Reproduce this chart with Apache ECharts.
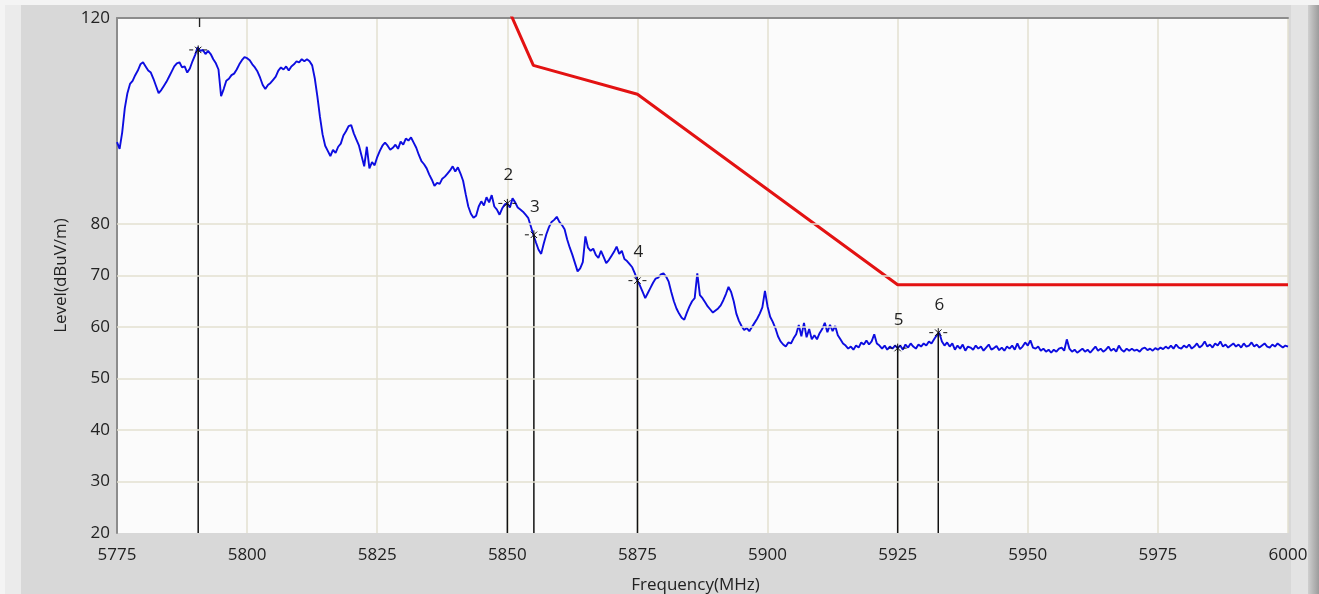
<!DOCTYPE html>
<html>
<head>
<meta charset="utf-8">
<script src="https://cdn.jsdelivr.net/npm/echarts@6/dist/echarts.min.js"></script>
<style>
html,body{margin:0;padding:0;background:#d8d8d8;}
#chart{width:1319px;height:594px;}
</style>
</head>
<body>
<div id="chart"></div>
<script>
// ---- data ----
const freqStart = 5775;   // MHz, first trace sample
const freqStep = 0.5;     // MHz between trace samples
const traceLevel = [
 95.9, 94.6, 97.8, 102.5, 105.4, 107.2, 107.8, 108.9, 109.8, 111.0,
 111.4, 110.6, 109.8, 109.4, 108.2, 106.8, 105.4, 106.0, 106.8, 107.6,
 108.6, 109.6, 110.6, 111.2, 111.4, 110.4, 110.6, 109.4, 110.2, 111.6,
 112.8, 114.3, 113.6, 113.8, 113.0, 113.6, 113.0, 112.0, 111.2, 110.0,
 104.8, 106.2, 107.8, 108.2, 108.9, 109.2, 110.0, 111.0, 111.8, 112.4,
 112.2, 111.8, 111.0, 110.4, 109.6, 108.4, 107.0, 106.2, 107.0, 107.4,
 108.0, 108.6, 109.8, 110.4, 110.0, 110.6, 109.8, 110.6, 111.0, 111.6,
 111.4, 112.0, 111.6, 112.0, 111.6, 110.8, 108.3, 104.8, 100.8, 97.4,
 95.2, 94.2, 93.2, 94.4, 93.8, 95.0, 95.6, 97.2, 98.0, 99.0,
 99.2, 97.6, 96.4, 95.2, 93.2, 91.2, 95.0, 90.8, 92.0, 91.4,
 93.0, 94.2, 95.2, 95.8, 95.2, 94.4, 94.8, 95.4, 94.6, 96.0,
 95.4, 96.6, 96.2, 96.8, 95.8, 94.8, 93.4, 92.2, 91.6, 90.8,
 89.6, 88.6, 87.4, 88.0, 87.8, 88.8, 89.2, 89.8, 90.4, 91.2,
 90.2, 91.0, 89.8, 88.4, 85.8, 83.4, 82.0, 81.2, 81.6, 83.4,
 84.4, 83.6, 85.2, 84.2, 85.6, 83.4, 82.8, 81.8, 83.0, 83.8,
 84.0, 83.2, 85.0, 84.2, 83.2, 82.8, 82.4, 81.8, 81.2, 79.6,
 77.9, 76.4, 75.0, 74.2, 76.2, 78.0, 79.4, 80.4, 80.8, 81.4,
 80.4, 79.8, 79.0, 77.0, 75.4, 74.0, 72.4, 70.8, 71.4, 72.6,
 77.6, 75.4, 74.8, 75.2, 74.0, 73.4, 74.8, 73.6, 72.4, 73.0,
 73.8, 74.6, 75.6, 74.2, 74.8, 73.2, 72.8, 72.2, 71.6, 70.4,
 69.0, 68.0, 66.8, 65.6, 66.6, 67.6, 68.6, 69.4, 69.6, 70.2,
 70.4, 69.8, 68.8, 66.8, 65.0, 63.6, 62.6, 61.8, 61.4, 62.8,
 64.0, 65.0, 65.6, 70.4, 66.2, 65.6, 64.8, 64.0, 63.4, 62.8,
 63.2, 63.6, 64.2, 65.2, 66.4, 67.8, 66.8, 65.0, 62.6, 61.2,
 60.2, 59.4, 59.8, 59.2, 60.0, 60.8, 61.6, 62.6, 63.8, 67.0,
 64.0, 62.0, 61.0, 59.8, 58.2, 57.2, 56.6, 56.2, 57.0, 56.8,
 57.8, 58.6, 60.4, 58.2, 60.8, 58.0, 59.6, 57.6, 58.4, 57.6,
 58.8, 59.6, 60.8, 59.0, 60.4, 59.2, 60.2, 58.4, 57.6, 56.8,
 56.4, 55.8, 56.2, 55.6, 56.4, 56.0, 57.0, 56.6, 57.4, 56.6,
 57.2, 58.6, 56.8, 56.4, 55.8, 56.4, 55.6, 56.2, 55.8, 56.4,
 55.9, 56.4, 55.6, 56.6, 56.0, 56.8, 56.2, 55.8, 56.6, 56.2,
 56.8, 56.4, 57.2, 56.8, 57.6, 58.4, 58.9, 57.2, 56.4, 57.0,
 56.2, 56.8, 55.6, 56.4, 55.8, 56.6, 55.4, 56.2, 56.0, 55.6,
 56.4, 55.8, 56.2, 55.4, 56.0, 56.6, 55.6, 55.9, 56.3, 55.5,
 56.0, 55.4, 56.2, 55.8, 56.4, 55.6, 56.8, 55.7, 56.2, 57.0,
 56.4, 57.4, 56.0, 55.8, 56.2, 55.4, 55.8, 55.2, 55.6, 55.0,
 55.6, 55.2, 55.8, 56.0, 55.4, 57.6, 55.8, 55.2, 55.6, 55.0,
 55.4, 55.8, 55.2, 55.6, 55.0, 55.6, 56.2, 55.4, 55.8, 55.2,
 55.6, 56.2, 55.4, 55.8, 55.2, 56.4, 55.6, 55.2, 55.8, 55.4,
 55.8, 55.4, 55.6, 55.2, 55.8, 56.0, 55.5, 55.8, 55.4, 55.9,
 55.6, 56.0, 55.7, 56.2, 55.8, 56.4, 55.8, 56.6, 56.0, 55.8,
 56.4, 56.0, 56.6, 55.8, 56.2, 56.8, 56.0, 56.4, 57.2, 56.2,
 56.6, 56.0, 56.8, 56.4, 57.2, 56.2, 56.6, 56.0, 56.4, 56.8,
 56.2, 56.6, 56.0, 56.8, 56.2, 56.4, 57.0, 56.2, 56.6, 56.0,
 56.4, 56.8, 56.2, 56.0, 56.6, 56.2, 56.8, 56.4, 56.0, 56.4, 56.2
];
const limitFreq  = [5850, 5855, 5875, 5925, 6000];
const limitLevel = [122.2, 110.8, 105.2, 68.2, 68.2];
const markerId    = [1, 2, 3, 4, 5, 6];
const markerFreq  = [5790.6, 5850.0, 5855.1, 5875.0, 5925.0, 5932.8];
const markerLevel = [113.8, 84.0, 77.9, 69.0, 55.9, 58.9];
const xTicks = [5775, 5800, 5825, 5850, 5875, 5900, 5925, 5950, 5975, 6000];
const yLabels = [20, 30, 40, 50, 60, 70, 80, 120];
const yGridLines = [30, 40, 50, 60, 70, 80];

// ---- build library inputs ----
const traceData = traceLevel.map((v, i) => [freqStart + i * freqStep, v]);
const limitData = limitFreq.map((f, i) => [f, limitLevel[i]]);
const markerData = markerId.map((id, i) => [markerFreq[i], markerLevel[i], id]);

const X_MIN = xTicks[0], X_MAX = xTicks[xTicks.length - 1];
const Y_MIN = yLabels[0], Y_MAX = yLabels[yLabels.length - 1];
const FONT = '"Open Sans", "Noto Sans", sans-serif';

const chart = echarts.init(document.getElementById('chart'), null, {renderer: 'canvas'});
chart.setOption({
  animation: false,
  backgroundColor: '#d8d8d8',
  graphic: [
    {type: 'rect', shape: {x: 0, y: 0, width: 21, height: 594}, style: {fill: '#ebebeb'}, z: -10},
    {type: 'rect', shape: {x: 0, y: 0, width: 5, height: 594}, style: {fill: '#f4f4f4'}, z: -9},
    {type: 'rect', shape: {x: 0, y: 0, width: 1319, height: 5}, style: {fill: '#f4f4f4'}, z: -9},
    {type: 'rect', shape: {x: 1291, y: 5, width: 17, height: 589}, style: {fill: '#e3e3e3'}, z: -9},
    {type: 'rect', shape: {x: 1308, y: 5, width: 11, height: 589}, z: -9,
      style: {fill: new echarts.graphic.LinearGradient(0, 0, 1, 0, [
        {offset: 0, color: '#cfcfcf'}, {offset: 1, color: '#9c9c9c'}])}}
  ],
  grid: {
    left: 117, top: 18, right: 31, bottom: 61,
    outerBoundsMode: 'none', containLabel: false,
    show: true, backgroundColor: '#fbfbfb', borderWidth: 0
  },
  xAxis: [{
    type: 'value', min: X_MIN, max: X_MAX, interval: 25,
    name: 'Frequency(MHz)', nameLocation: 'middle', nameGap: 44,
    nameTextStyle: {fontFamily: FONT, fontSize: 17, color: '#222', padding: [0, 14, 0, 0]},
    axisLine: {show: false}, axisTick: {show: false},
    axisLabel: {fontFamily: FONT, fontSize: 17, color: '#222', margin: 14,
      formatter: v => String(v)},
    splitLine: {show: true, lineStyle: {color: '#e3e0d0', width: 1.5}}
  }, {
    type: 'value', position: 'top', min: X_MIN, max: X_MAX,
    axisLine: {show: true, lineStyle: {color: '#8c8c8c', width: 2}},
    axisTick: {show: false}, axisLabel: {show: false}, splitLine: {show: false}
  }],
  yAxis: {
    type: 'value', min: Y_MIN, max: Y_MAX, interval: 10,
    name: 'Level(dBuV/m)', nameLocation: 'middle', nameGap: 45,
    nameTextStyle: {fontFamily: FONT, fontSize: 17, color: '#222'},
    axisLine: {show: true, lineStyle: {color: '#8c8c8c', width: 2}},
    axisTick: {show: false},
    axisLabel: {fontFamily: FONT, fontSize: 17, color: '#222', margin: 7,
      formatter: v => (yLabels.indexOf(v) >= 0 ? String(v) : '')},
    splitLine: {show: false}
  },
  series: [
    {
      name: 'grid', type: 'line', data: [], z: 1, silent: true,
      markLine: {
        silent: true, symbol: 'none', label: {show: false},
        lineStyle: {color: '#e3e0d0', width: 1.5, type: 'solid'},
        data: yGridLines.map(v => ({yAxis: v}))
      }
    },
    {
      name: 'Limit', type: 'line', data: limitData, z: 3,
      showSymbol: false, clip: true,
      lineStyle: {color: '#e31212', width: 3}
    },
    {
      name: 'Trace', type: 'line', data: traceData, z: 3,
      showSymbol: false, sampling: 'none', clip: true,
      lineStyle: {color: '#0d0de0', width: 1.9}
    },
    {
      name: 'Markers', type: 'custom', data: markerData, z: 4, clip: true,
      renderItem: function (params, api) {
        const f = api.value(0), v = api.value(1), id = api.value(2);
        const p = api.coord([f, v]);
        const b = api.coord([f, Y_MIN]);
        const r = 4.5, d = 3.2;
        const st = {stroke: '#111', lineWidth: 1};
        return {
          type: 'group',
          children: [
            {type: 'line', shape: {x1: p[0], y1: p[1], x2: b[0], y2: b[1]}, style: {stroke: '#111', lineWidth: 1.5}},
            {type: 'line', shape: {x1: p[0] - 9, y1: p[1], x2: p[0] - 5, y2: p[1]}, style: st},
            {type: 'line', shape: {x1: p[0] + 5, y1: p[1], x2: p[0] + 9, y2: p[1]}, style: st},
            {type: 'line', shape: {x1: p[0], y1: p[1] - r, x2: p[0], y2: p[1] + r}, style: st},
            {type: 'line', shape: {x1: p[0] - d, y1: p[1] - d, x2: p[0] + d, y2: p[1] + d}, style: st},
            {type: 'line', shape: {x1: p[0] - d, y1: p[1] + d, x2: p[0] + d, y2: p[1] - d}, style: st},
            {type: 'text', style: {text: String(id), x: p[0] + 1, y: p[1] - 28, align: 'center', verticalAlign: 'middle',
              fill: '#222', fontFamily: FONT, fontSize: 17}}
          ]
        };
      }
    }
  ]
});
</script>
</body>
</html>
